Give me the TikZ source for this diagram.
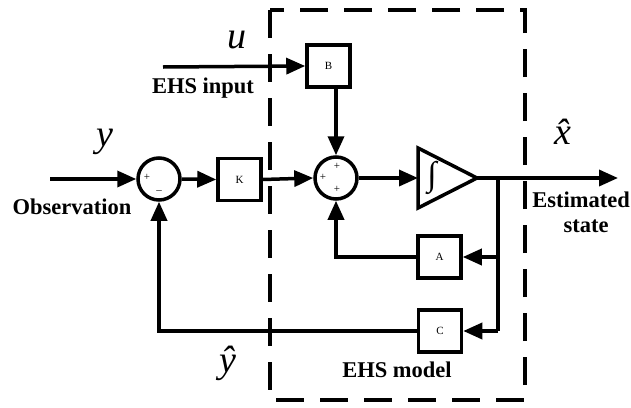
\documentclass[tikz,border=0pt]{standalone}
\usepackage{fontspec}
\setmainfont{Liberation Serif}
\usetikzlibrary{arrows.meta}
\begin{document}
\begin{tikzpicture}[x=1pt,y=-1pt,
  wire/.style={line width=3.5pt},
  arr/.style={wire,-{Triangle[length=19pt,width=16pt]}},
  blk/.style={draw,line width=3.5pt,minimum width=43pt,minimum height=42pt,inner sep=0pt,font=\fontsize{11}{12}\selectfont},
  summ/.style={draw,circle,line width=3.5pt,minimum size=42pt,inner sep=0pt},
  lbl/.style={font=\fontsize{22.5}{24}\selectfont\bfseries,inner sep=0pt},
  mlbl/.style={font=\fontsize{38}{40}\selectfont\itshape,inner sep=0pt},
  sgn/.style={font=\fontsize{11}{12}\selectfont,inner sep=0pt}]
\useasboundingbox (0,0) rectangle (631,407);
% dashed EHS model frame
\draw[line width=3.5pt,dash pattern=on 28pt off 16pt] (270,10) rectangle (525,400);
% blocks
\node[summ] (s1) at (159,179) {};
\node[blk] (K) at (239.5,179.5) {K};
\node[summ] (s2) at (336,178) {};
\node[blk] (B) at (328.5,66) {B};
\node[blk] (A) at (439.5,257) {A};
\node[blk] (C) at (440,331) {C};
% integrator
\coordinate (Il) at (418,178);
\coordinate (Ia) at (477,178);
\draw[wire,line join=miter] (418,148) -- (Ia) -- (418,208) -- cycle;
\node[font=\fontsize{34}{34}\selectfont,inner sep=0pt] (int) at (432,178) {∫};
% signs
\node[sgn] (p1) at (147,177) {+};
\node[sgn] (m1) at (159,192) {--};
\node[sgn] (p2) at (337,166) {+};
\node[sgn] (p3) at (323,177) {+};
\node[sgn] (p4) at (337,189) {+};
% free ends
\coordinate (yin) at (50,179);
\coordinate (uin) at (163,67);
\coordinate (xout) at (618,178);
\coordinate (j1) at (498,178);
\coordinate (j2) at (498,257);
\coordinate (j3) at (498,331);
% connectors
\draw[arr] (yin) -- (s1.west);
\draw[arr] (s1.east) -- (K.west);
\draw[arr] (K.east) -- (s2.west);
\draw[arr] (uin) -- (B.west);
\draw[arr] (B.south -| s2.north) -- (s2.north);
\draw[arr] (s2.east) -- (Il);
\draw[arr] (Ia) -- (xout);
\draw[wire] (j1) -- (j3);
\draw[arr] (j2) -- (A.east);
\draw[arr] (j3) -- (C.east);
\draw[arr] (A.west) -| (s2.south);
\draw[arr] (C.west) -| (s1.south);
% labels
\node[mlbl] (ly) at (105,142) {y};
\node[mlbl] (lu) at (237,40) {u};
\node[mlbl] (lx) at (563,132) {\^x};
\node[mlbl] (lyh) at (228,363) {\^y};
\node[lbl] (obs) at (72,207) {Observation};
\node[lbl] (ehsin) at (203,88) {EHS input};
\node[lbl,anchor=east] (est) at (630,200) {Estimated};
\node[lbl] (st) at (586,226) {state};
\node[lbl] (ehsm) at (397,370) {EHS model};
\end{tikzpicture}
\end{document}
